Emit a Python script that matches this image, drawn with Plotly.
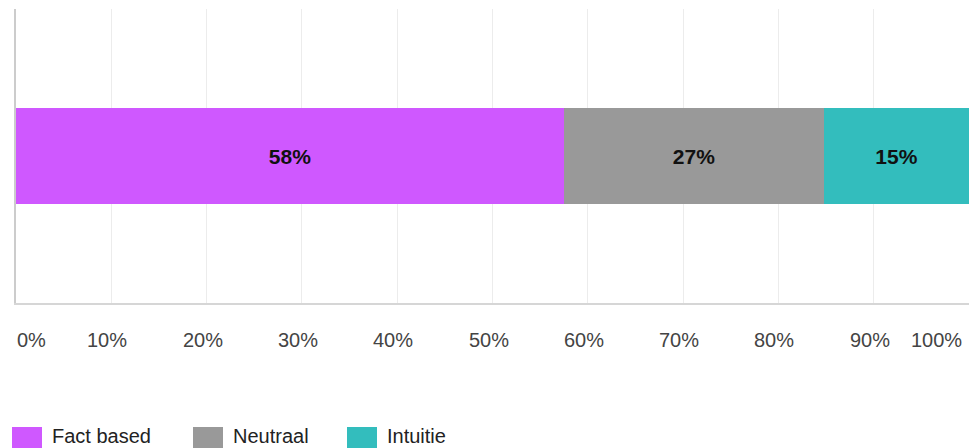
import plotly.graph_objects as go

categories = ["Keuze"]
series_names = ["Fact based", "Neutraal", "Intuitie"]
series_values = [57.5, 27.3, 15.2]
series_labels = ["58%", "27%", "15%"]
series_colors = ["#CF58FF", "#999999", "#33BDBD"]
tick_values = [0, 10, 20, 30, 40, 50, 60, 70, 80, 90, 100]
tick_labels = ["0%", "10%", "20%", "30%", "40%", "50%", "60%", "70%", "80%", "90%", "100%"]

W, H = 969, 448
ML, MR, MT, MB = 16, 0, 9, 145
PW, PH = W - ML - MR, H - MT - MB
FONT = "Liberation Sans, Arial"

fig = go.Figure()
for name, val, lab, col in zip(series_names, series_values, series_labels, series_colors):
    fig.add_trace(go.Bar(
        y=categories, x=[val], name=name, orientation="h",
        marker=dict(color=col, line=dict(width=0)),
        text=[lab], textposition="inside", insidetextanchor="middle",
        textfont=dict(family=FONT, size=21, color="#111111", weight="bold"),
        constraintext="none", width=0.324, showlegend=False,
    ))

annotations = []
n = len(tick_values)
for i, (tv, tl) in enumerate(zip(tick_values, tick_labels)):
    if i == 0:
        anchor, xs = "left", -1
    elif i == n - 1:
        anchor, xs = "right", -5
    else:
        anchor, xs = "center", -4
    annotations.append(dict(
        x=tv, xref="x", y=0, yref="paper", yshift=-37, xshift=xs,
        text=tl, showarrow=False, xanchor=anchor, yanchor="middle",
        font=dict(family=FONT, size=20, color="#444444"),
    ))

# custom legend
legend_px = [12, 193, 347]
shapes = []
def px_x(p):
    return (p - ML) / PW
def px_y(p):
    return (H - MB - p) / PH
for name, col, lx in zip(series_names, series_colors, legend_px):
    shapes.append(dict(type="rect", xref="paper", yref="paper",
                       x0=px_x(lx), x1=px_x(lx + 30), y0=px_y(448), y1=px_y(427),
                       fillcolor=col, line=dict(width=0), layer="above"))
    annotations.append(dict(
        x=px_x(lx + 38), xref="paper", y=px_y(436), yref="paper",
        text=name, showarrow=False, xanchor="left", yanchor="middle",
        font=dict(family=FONT, size=20, color="#222222"),
    ))

fig.update_layout(
    width=W, height=H,
    margin=dict(l=ML, r=MR, t=MT, b=MB, pad=0),
    barmode="stack", bargap=0,
    plot_bgcolor="white", paper_bgcolor="white",
    xaxis=dict(range=[0, 100], tickvals=tick_values, showticklabels=False,
               showgrid=True, gridcolor="#ececec", gridwidth=1,
               zeroline=False, showline=True, linecolor="#d6d6d6", linewidth=2,
               ticks="", fixedrange=True),
    yaxis=dict(range=[-0.5, 0.5], showticklabels=False, showgrid=False,
               zeroline=False, showline=True, linecolor="#cccccc", linewidth=2,
               ticks=""),
    annotations=annotations, shapes=shapes,
    showlegend=False,
)

fig.write_html("out.html", config={"displayModeBar": False})
